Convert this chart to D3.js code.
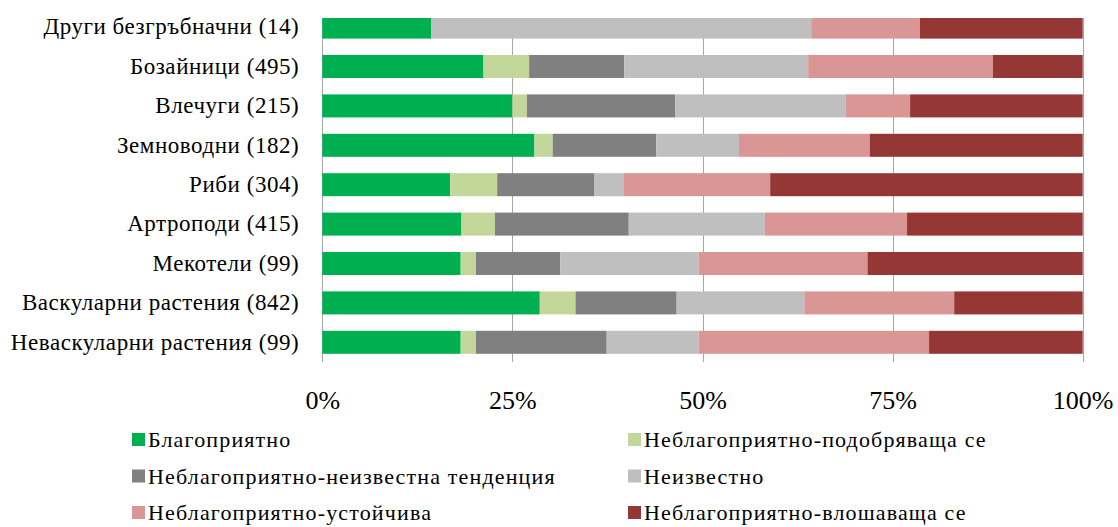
<!DOCTYPE html>
<html>
<head>
<meta charset="utf-8">
<script src="https://cdn.jsdelivr.net/npm/d3@7"></script>
<style>
  html, body { margin: 0; padding: 0; background: #fff; }
  svg { display: block; }
</style>
</head>
<body>
<svg id="chart" width="1118" height="527"></svg>
<script>
const categories = [
  'Други безгръбначни (14)',
  'Бозайници (495)',
  'Влечуги (215)',
  'Земноводни (182)',
  'Риби (304)',
  'Артроподи (415)',
  'Мекотели (99)',
  'Васкуларни растения (842)',
  'Неваскуларни растения (99)'
]

const seriesNames = [
  'Благоприятно',
  'Неблагоприятно-подобряваща се',
  'Неблагоприятно-неизвестна тенденция',
  'Неизвестно',
  'Неблагоприятно-устойчива',
  'Неблагоприятно-влошаваща се'
]

// percent of assessments per category, top row first
const favourable = [14.3, 21.2, 25.0, 27.9, 16.8, 18.3, 18.2, 28.6, 18.2]
const improving = [0, 6.0, 1.9, 2.4, 6.2, 4.4, 2.0, 4.7, 2.0]
const unknownTrend = [0, 12.5, 19.5, 13.6, 12.8, 17.6, 11.1, 13.3, 17.2]
const unknown = [50.0, 24.2, 22.4, 10.9, 3.8, 17.9, 18.2, 16.8, 12.1]
const stable = [14.3, 24.3, 8.5, 17.2, 19.3, 18.7, 22.2, 19.7, 30.3]
const declining = [21.4, 11.8, 22.7, 28.0, 41.1, 23.1, 28.3, 16.9, 20.2]

const tickValues = [0, 25, 50, 75, 100]

const colors = ['#00b050', '#c4d79b', '#808080', '#bfbfbf', '#da9694', '#953735']
const font = '"Liberation Serif", "Times New Roman", serif'

const seriesValues = [favourable, improving, unknownTrend, unknown, stable, declining]
const rows = categories.map((c, i) => {
  const row = { category: c }
  seriesNames.forEach((s, j) => { row[s] = seriesValues[j][i] })
  return row
})

const stacked = d3.stack().keys(seriesNames)(rows)

const svg = d3.select('#chart')

const plotTop = 18
const plotBottom = 362
const x = d3.scaleLinear().domain([0, 100]).range([322.3, 1082.7])
const y = d3.scaleBand()
  .domain(categories)
  .range([7.4, plotBottom])
  .paddingInner(0.416)
  .paddingOuter(0.208)

svg.append('defs')
  .append('clipPath')
  .attr('id', 'plot-clip')
  .append('rect')
  .attr('x', x(0) - 1)
  .attr('y', plotTop)
  .attr('width', x(100) - x(0) + 2)
  .attr('height', plotBottom - plotTop)

// vertical gridlines behind the bars
svg.append('g')
  .selectAll('line')
  .data(tickValues)
  .join('line')
  .attr('x1', (d) => Math.round(x(d)) + 0.5)
  .attr('x2', (d) => Math.round(x(d)) + 0.5)
  .attr('y1', plotTop)
  .attr('y2', plotBottom)
  .attr('stroke', '#a6a6a6')
  .attr('stroke-width', 1)

svg.append('g')
  .attr('clip-path', 'url(#plot-clip)')
  .selectAll('g')
  .data(stacked)
  .join('g')
  .attr('fill', (_, i) => colors[i])
  .selectAll('rect')
  .data((d) => d)
  .join('rect')
  .attr('x', (d) => x(d[0]))
  .attr('width', (d) => x(d[1]) - x(d[0]))
  .attr('y', (d) => y(d.data.category))
  .attr('height', y.bandwidth())

// category labels
const yAxis = svg.append('g')
  .attr('transform', `translate(${x(0)},0)`)
  .call(d3.axisLeft(y).tickSize(0).tickPadding(23))
yAxis.select('.domain').remove()
yAxis.selectAll('text')
  .attr('font-family', font)
  .attr('font-size', 23)
  .attr('letter-spacing', '0.55px')
  .attr('fill', '#000')

// percent labels
const xAxis = svg.append('g')
  .attr('transform', `translate(0,${plotBottom})`)
  .call(d3.axisBottom(x).tickValues(tickValues).tickFormat((d) => d + '%').tickSize(0).tickPadding(29))
xAxis.select('.domain').remove()
xAxis.selectAll('text')
  .attr('font-family', font)
  .attr('font-size', 26)
  .attr('fill', '#000')

// legend, two columns
const legendX = [132, 628]
const legendY = [439.5, 476, 512.5]
const legend = svg.append('g')
  .selectAll('g')
  .data(seriesNames)
  .join('g')
  .attr('transform', (_, i) => `translate(${legendX[i % 2]},${legendY[Math.floor(i / 2)]})`)

legend.append('rect')
  .attr('x', 0)
  .attr('y', -6.5)
  .attr('width', 13)
  .attr('height', 13)
  .attr('fill', (_, i) => colors[i])

legend.append('text')
  .attr('x', 16)
  .attr('y', 0)
  .attr('dy', '0.35em')
  .attr('font-family', font)
  .attr('font-size', 22)
  .attr('letter-spacing', '1.15px')
  .attr('fill', '#000')
  .text((d) => d)
</script>
</body>
</html>
